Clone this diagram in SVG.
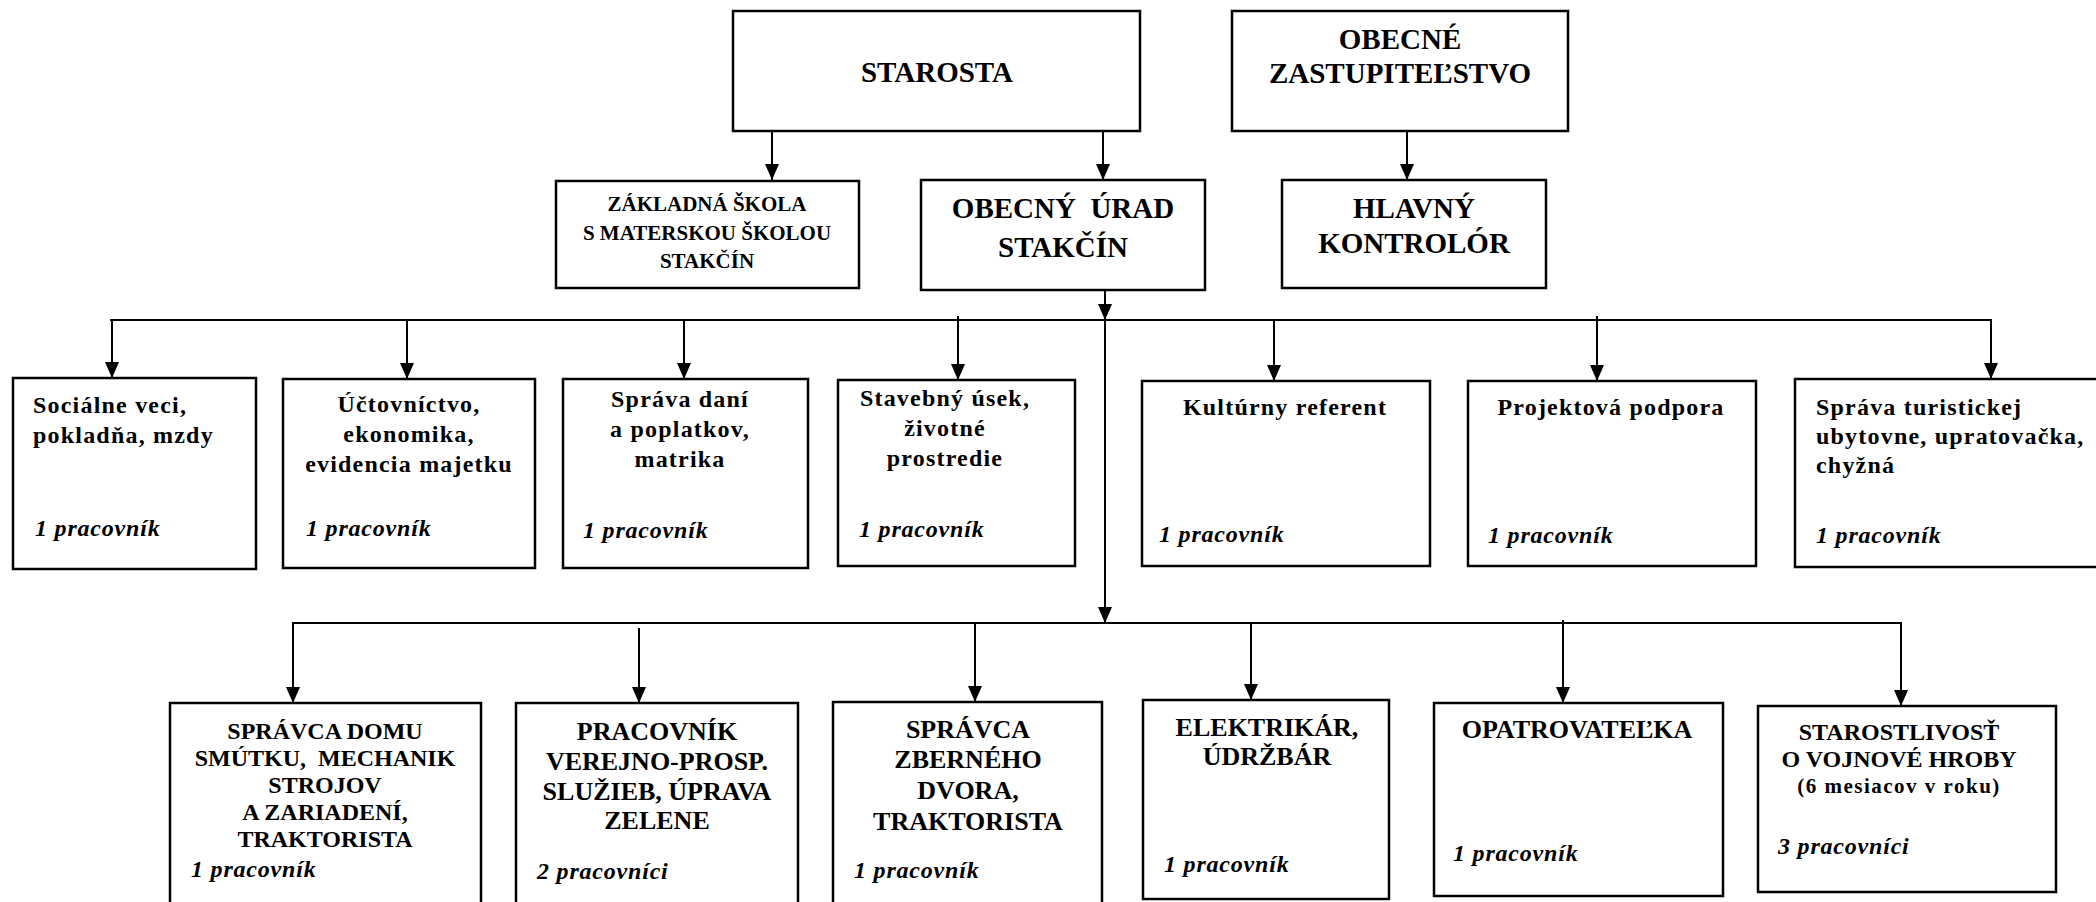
<svg xmlns="http://www.w3.org/2000/svg" width="2096" height="902" viewBox="0 0 2096 902">
<style>
  .box { fill: #fff; stroke: #000; stroke-width: 2.5; }
  .ln { fill: none; stroke: #000; stroke-width: 2; }
  text { font-family: "Liberation Serif", "Times New Roman", serif; font-weight: bold; fill: #000; white-space: pre; }
  .t29 { font-size: 29px; text-anchor: middle; }
  .t21 { font-size: 21px; text-anchor: middle; }
  .c26 { font-size: 26px; text-anchor: middle; }
  .c24 { font-size: 24px; text-anchor: middle; }
  .lc { font-size: 24px; letter-spacing: 1.2px; }
  .lm { font-size: 24px; letter-spacing: 1.2px; text-anchor: middle; }
  .it { font-size: 24px; font-style: italic; letter-spacing: 0.8px; }
  .sm { font-size: 21px; letter-spacing: 1.5px; text-anchor: middle; }
</style>
<defs>
  <marker id="arr" markerUnits="userSpaceOnUse" markerWidth="16" markerHeight="14" refX="16" refY="7" orient="auto">
    <path d="M0,0 L16,7 L0,14 z" fill="#000"/>
  </marker>
</defs>
<rect width="2096" height="902" fill="#fff"/>

<g id="connectors">
  <path class="ln" d="M772,131 V180" marker-end="url(#arr)"/>
  <path class="ln" d="M1103,131 V180" marker-end="url(#arr)"/>
  <path class="ln" d="M1407,131 V180" marker-end="url(#arr)"/>
  <path class="ln" d="M1105,290 V320" marker-end="url(#arr)"/>
  <path class="ln" d="M1105,320 V623" marker-end="url(#arr)"/>
  <path class="ln" d="M110,320 H1992"/>
  <path class="ln" d="M112,320 V378" marker-end="url(#arr)"/>
  <path class="ln" d="M407,320 V379" marker-end="url(#arr)"/>
  <path class="ln" d="M684,320 V379" marker-end="url(#arr)"/>
  <path class="ln" d="M958,316 V380" marker-end="url(#arr)"/>
  <path class="ln" d="M1274,320 V381" marker-end="url(#arr)"/>
  <path class="ln" d="M1597,316 V381" marker-end="url(#arr)"/>
  <path class="ln" d="M1991,320 V379" marker-end="url(#arr)"/>
  <path class="ln" d="M292,623 H1902"/>
  <path class="ln" d="M293,623 V703" marker-end="url(#arr)"/>
  <path class="ln" d="M639,628 V703" marker-end="url(#arr)"/>
  <path class="ln" d="M975,623 V702" marker-end="url(#arr)"/>
  <path class="ln" d="M1251,623 V700" marker-end="url(#arr)"/>
  <path class="ln" d="M1563,620 V703" marker-end="url(#arr)"/>
  <path class="ln" d="M1901,623 V706" marker-end="url(#arr)"/>
</g>

<g id="starosta">
  <rect class="box" x="733" y="11" width="407" height="120"/>
  <text class="t29" x="937" y="82">STAROSTA</text>
</g>
<g id="zastupitelstvo">
  <rect class="box" x="1232" y="11" width="336" height="120"/>
  <text class="t29" x="1400" y="49">OBECNÉ</text>
  <text class="t29" x="1400" y="83">ZASTUPITEĽSTVO</text>
</g>
<g id="skola">
  <rect class="box" x="556" y="181" width="303" height="107"/>
  <text class="t21" x="707" y="211">ZÁKLADNÁ ŠKOLA</text>
  <text class="t21" x="707" y="240">S MATERSKOU ŠKOLOU</text>
  <text class="t21" x="707" y="268">STAKČÍN</text>
</g>
<g id="urad">
  <rect class="box" x="921" y="180" width="284" height="110"/>
  <text class="t29" x="1063" y="218">OBECNÝ  ÚRAD</text>
  <text class="t29" x="1063" y="257">STAKČÍN</text>
</g>
<g id="kontrolor">
  <rect class="box" x="1282" y="180" width="264" height="108"/>
  <text class="t29" x="1414" y="218">HLAVNÝ</text>
  <text class="t29" x="1414" y="253">KONTROLÓR</text>
</g>

<g id="socialne">
  <rect class="box" x="13" y="378" width="243" height="191"/>
  <text class="lc" x="33" y="413">Sociálne veci,</text>
  <text class="lc" x="33" y="443">pokladňa, mzdy</text>
  <text class="it" x="35" y="536">1 pracovník</text>
</g>
<g id="uctovnictvo">
  <rect class="box" x="283" y="379" width="252" height="189"/>
  <text class="lm" x="409" y="412">Účtovníctvo,</text>
  <text class="lm" x="409" y="442">ekonomika,</text>
  <text class="lm" x="409" y="472">evidencia majetku</text>
  <text class="it" x="306" y="536">1 pracovník</text>
</g>
<g id="dane">
  <rect class="box" x="563" y="379" width="245" height="189"/>
  <text class="lm" x="680" y="407">Správa daní</text>
  <text class="lm" x="680" y="437">a poplatkov,</text>
  <text class="lm" x="680" y="467">matrika</text>
  <text class="it" x="583" y="538">1 pracovník</text>
</g>
<g id="stavebny">
  <rect class="box" x="838" y="380" width="237" height="186"/>
  <text class="lm" x="945" y="406">Stavebný úsek,</text>
  <text class="lm" x="945" y="436">životné</text>
  <text class="lm" x="945" y="466">prostredie</text>
  <text class="it" x="859" y="537">1 pracovník</text>
</g>
<g id="kulturny">
  <rect class="box" x="1142" y="381" width="288" height="185"/>
  <text class="lm" x="1285" y="415">Kultúrny referent</text>
  <text class="it" x="1159" y="542">1 pracovník</text>
</g>
<g id="projektova">
  <rect class="box" x="1468" y="381" width="288" height="185"/>
  <text class="lm" x="1611" y="415">Projektová podpora</text>
  <text class="it" x="1488" y="543">1 pracovník</text>
</g>
<g id="turisticka">
  <rect class="box" x="1795" y="379" width="310" height="188"/>
  <text class="lc" x="1816" y="415">Správa turistickej</text>
  <text class="lc" x="1816" y="444">ubytovne, upratovačka,</text>
  <text class="lc" x="1816" y="473">chyžná</text>
  <text class="it" x="1816" y="543">1 pracovník</text>
</g>

<g id="spravca-domu">
  <rect class="box" x="170" y="703" width="311" height="210"/>
  <text class="c24" x="325" y="739">SPRÁVCA DOMU</text>
  <text class="c24" x="325" y="766">SMÚTKU,  MECHANIK</text>
  <text class="c24" x="325" y="793">STROJOV</text>
  <text class="c24" x="325" y="820">A ZARIADENÍ,</text>
  <text class="c24" x="325" y="847">TRAKTORISTA</text>
  <text class="it" x="191" y="877">1 pracovník</text>
</g>
<g id="pracovnik-vps">
  <rect class="box" x="516" y="703" width="282" height="210"/>
  <text class="c26" x="657" y="740">PRACOVNÍK</text>
  <text class="c26" x="657" y="770">VEREJNO-PROSP.</text>
  <text class="c26" x="657" y="800">SLUŽIEB, ÚPRAVA</text>
  <text class="c26" x="657" y="829">ZELENE</text>
  <text class="it" x="537" y="879">2 pracovníci</text>
</g>
<g id="zberny-dvor">
  <rect class="box" x="833" y="702" width="269" height="210"/>
  <text class="c26" x="968" y="738">SPRÁVCA</text>
  <text class="c26" x="968" y="768">ZBERNÉHO</text>
  <text class="c26" x="968" y="799">DVORA,</text>
  <text class="c26" x="968" y="830">TRAKTORISTA</text>
  <text class="it" x="854" y="878">1 pracovník</text>
</g>
<g id="elektrikar">
  <rect class="box" x="1143" y="700" width="246" height="199"/>
  <text class="c26" x="1267" y="736">ELEKTRIKÁR,</text>
  <text class="c26" x="1267" y="765">ÚDRŽBÁR</text>
  <text class="it" x="1164" y="872">1 pracovník</text>
</g>
<g id="opatrovatelka">
  <rect class="box" x="1434" y="703" width="289" height="193"/>
  <text class="c26" x="1577" y="738">OPATROVATEĽKA</text>
  <text class="it" x="1453" y="861">1 pracovník</text>
</g>
<g id="vojnove-hroby">
  <rect class="box" x="1758" y="706" width="298" height="186"/>
  <text class="c24" x="1899" y="740">STAROSTLIVOSŤ</text>
  <text class="c24" x="1899" y="767">O VOJNOVÉ HROBY</text>
  <text class="sm" x="1899" y="793">(6 mesiacov v roku)</text>
  <text class="it" x="1778" y="854">3 pracovníci</text>
</g>
</svg>
